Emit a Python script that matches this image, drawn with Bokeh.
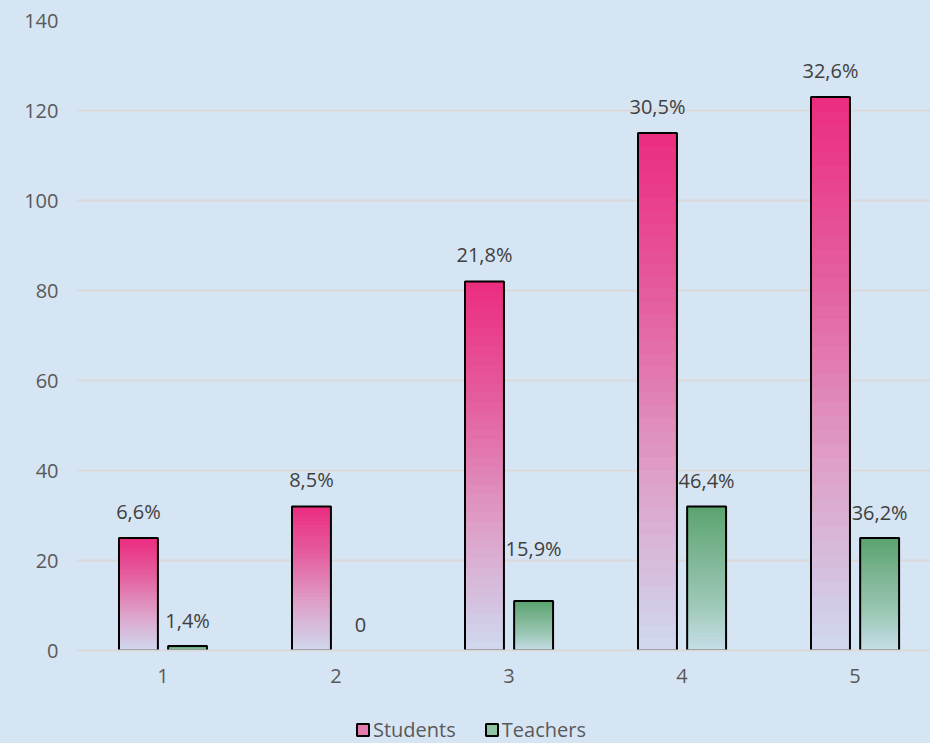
import numpy as np
from bokeh.plotting import figure
from bokeh.layouts import column
from bokeh.models import Range1d, FixedTicker, Legend, LegendItem, ColumnDataSource
from bokeh.core.properties import value
from bokeh.embed import file_html
from bokeh.resources import INLINE

# ---- data ----
categories = [1, 2, 3, 4, 5]
category_labels = ["1", "2", "3", "4", "5"]
students = [25, 32, 82, 115, 123]
teachers = [1, 0, 11, 32, 25]
students_labels = ["6,6%", "8,5%", "21,8%", "30,5%", "32,6%"]
teachers_labels = ["1,4%", "0", "15,9%", "46,4%", "36,2%"]
y_ticks = [0, 20, 40, 60, 80, 100, 120, 140]
series_names = ["Students", "Teachers"]

# ---- style ----
BG = "#d6e5f4"
GRID = "#d9d9d9"
FONT = "Open Sans"
FS = "20px"
PINK_STOPS = ["#cfd9ef", "#dea0c9", "#e45f9f", "#ec2c80"]
GREEN_STOPS = ["#c7dee9", "#9cc8b5", "#7db594", "#5ba46f"]
DODGE = 0.142
BAR_W = 0.225
N_SEG = 40
teachers_label_lift = [26, 26, 53, 26, 26]


def hex2rgb(h):
    h = h.lstrip("#")
    return np.array([int(h[i:i + 2], 16) for i in (0, 2, 4)], dtype=float)


def grad_color(stops, t):
    pos = t * (len(stops) - 1)
    i = min(int(pos), len(stops) - 2)
    f = pos - i
    c = hex2rgb(stops[i]) * (1 - f) + hex2rgb(stops[i + 1]) * f
    return "#%02x%02x%02x" % tuple(int(round(v)) for v in c)


p = figure(width=930, height=700, output_backend="svg", toolbar_location=None,
           x_range=Range1d(0.5, 5.436), y_range=Range1d(0, 140),
           min_border_left=76, min_border_right=0, min_border_top=20,
           min_border_bottom=50, styles={"background-color": BG})
p.background_fill_alpha = 0
p.border_fill_alpha = 0
p.outline_line_color = None


def gradient_bars(xs, vals, stops):
    L, R, B, T, C = [], [], [], [], []
    for x, v in zip(xs, vals):
        if v <= 0:
            continue
        for k in range(N_SEG):
            L.append(x - BAR_W / 2)
            R.append(x + BAR_W / 2)
            B.append(v * k / N_SEG)
            T.append(v * (k + 1) / N_SEG)
            C.append(grad_color(stops, (k + 0.5) / N_SEG))
    src = ColumnDataSource(dict(left=L, right=R, bottom=B, top=T, color=C))
    p.quad(left="left", right="right", bottom="bottom", top="top", source=src,
           fill_color="color", line_color="color", line_width=1)
    xs_nz = [x for x, v in zip(xs, vals) if v > 0]
    v_nz = [v for v in vals if v > 0]
    p.quad(left=[x - BAR_W / 2 for x in xs_nz], right=[x + BAR_W / 2 for x in xs_nz],
           bottom=0, top=v_nz, fill_color=None, line_color="black", line_width=2)


sx = [c - DODGE for c in categories]
tx = [c + DODGE for c in categories]
gradient_bars(sx, students, PINK_STOPS)
gradient_bars(tx, teachers, GREEN_STOPS)

# data labels
p.text(x=sx, y=students, text=students_labels, y_offset=-27,
       text_align="center", text_baseline="middle",
       text_font=value(FONT), text_font_size=FS, text_color="#404040")
p.text(x=tx, y=teachers, text=teachers_labels,
       y_offset=[-l for l in teachers_label_lift],
       text_align="center", text_baseline="middle",
       text_font=value(FONT), text_font_size=FS, text_color="#404040")

# axes
p.yaxis.ticker = FixedTicker(ticks=y_ticks)
p.yaxis.axis_line_color = None
p.yaxis.major_tick_line_color = None
p.yaxis.minor_tick_line_color = None
p.yaxis.major_tick_out = 0
p.yaxis.major_label_standoff = 18
p.yaxis.major_label_text_font = FONT
p.yaxis.major_label_text_font_size = FS
p.yaxis.major_label_text_color = "#595959"

p.xaxis.ticker = FixedTicker(ticks=categories)
p.xaxis.major_label_overrides = {c: l for c, l in zip(categories, category_labels)}
p.xaxis.axis_line_color = GRID
p.xaxis.axis_line_width = 2
p.xaxis.major_tick_line_color = None
p.xaxis.minor_tick_line_color = None
p.xaxis.major_tick_out = 0
p.xaxis.major_label_standoff = 18
p.xaxis.major_label_text_font = FONT
p.xaxis.major_label_text_font_size = FS
p.xaxis.major_label_text_color = "#595959"

p.xgrid.grid_line_color = None
p.ygrid.grid_line_color = GRID
p.ygrid.grid_line_width = 2

# legend strip (separate small figure below the chart)
lg = figure(width=930, height=43, output_backend="svg", toolbar_location=None,
            x_range=Range1d(0, 1), y_range=Range1d(0, 1),
            min_border=0, x_axis_type=None, y_axis_type=None,
            styles={"background-color": BG})
lg.background_fill_alpha = 0
lg.border_fill_alpha = 0
lg.outline_line_color = None
lg.grid.grid_line_color = None
rs = lg.quad(left=[-5], right=[-4], top=[-4], bottom=[-5], fill_color="#e27aae",
             line_color="black", line_width=2)
rt = lg.quad(left=[-5], right=[-4], top=[-4], bottom=[-5], fill_color="#8fc3a3",
             line_color="black", line_width=2)
legend = Legend(items=[LegendItem(label=series_names[0], renderers=[rs]),
                       LegendItem(label=series_names[1], renderers=[rt])],
                orientation="horizontal", location=(279, 0),
                label_text_font=FONT, label_text_font_size=FS,
                label_text_color="#595959",
                glyph_width=15, glyph_height=15, label_standoff=3,
                spacing=28, padding=0, margin=0,
                border_line_color=None, background_fill_alpha=0)
lg.add_layout(legend, "center")

layout = column(p, lg, spacing=0, styles={"background-color": BG})
open("out.html", "w").write(file_html(layout, INLINE))
